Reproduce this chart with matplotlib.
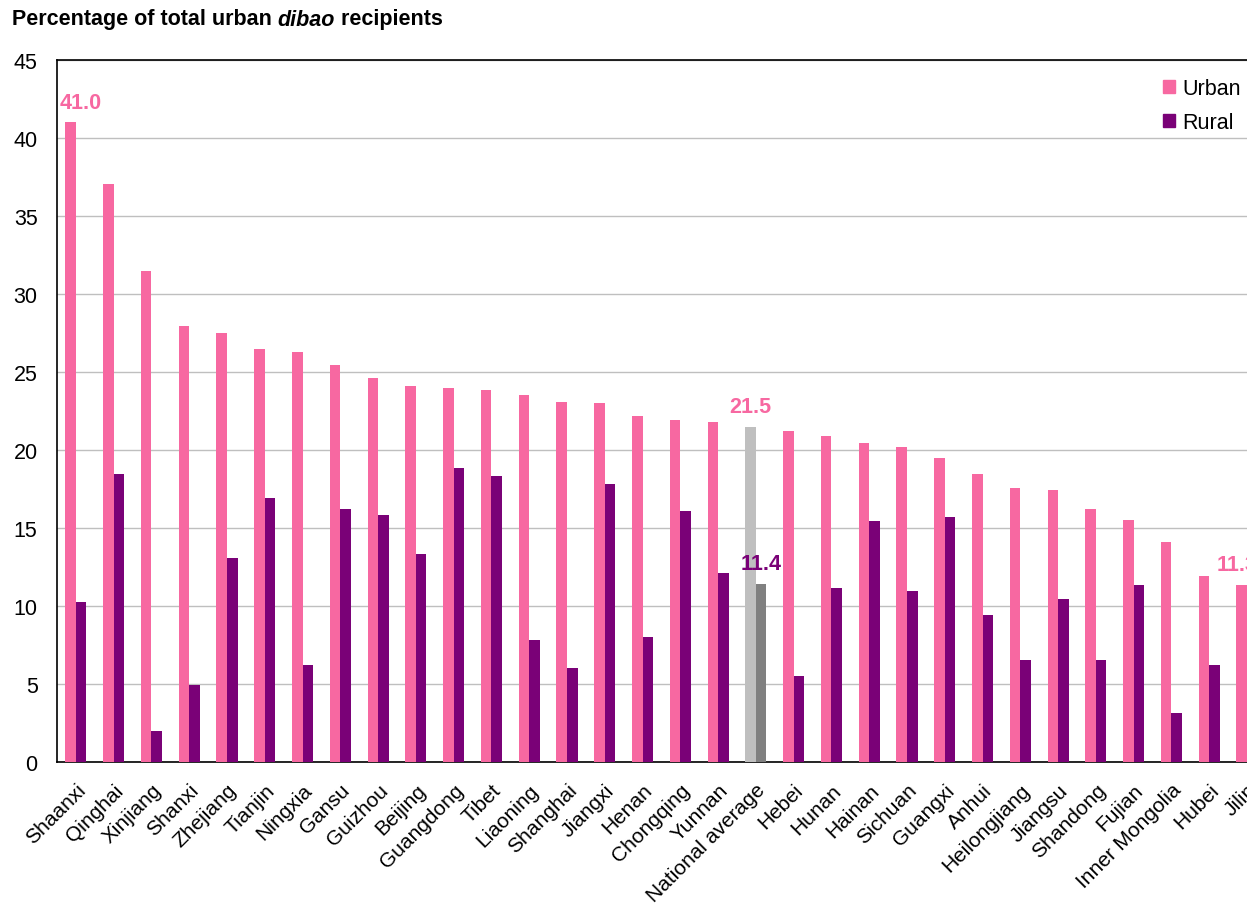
import matplotlib
matplotlib.use("Agg")
import matplotlib.pyplot as plt
import numpy as np
from matplotlib.patches import Patch

plt.rcParams['font.family'] = ['Liberation Sans', 'DejaVu Sans']

provinces = ["Shaanxi", "Qinghai", "Xinjiang", "Shanxi", "Zhejiang", "Tianjin", "Ningxia",
             "Gansu", "Guizhou", "Beijing", "Guangdong", "Tibet", "Liaoning", "Shanghai",
             "Jiangxi", "Henan", "Chongqing", "Yunnan", "National average", "Hebei", "Hunan",
             "Hainan", "Sichuan", "Guangxi", "Anhui", "Heilongjiang", "Jiangsu", "Shandong",
             "Fujian", "Inner Mongolia", "Hubei", "Jilin"]
urban = [41.0, 37.05, 31.5, 27.95, 27.5, 26.45, 26.3, 25.45, 24.6, 24.1, 24.0, 23.85, 23.55,
         23.1, 23.0, 22.2, 21.9, 21.8, 21.5, 21.2, 20.9, 20.45, 20.2, 19.5, 18.45, 17.55,
         17.45, 16.25, 15.5, 14.1, 11.95, 11.35]
rural = [10.25, 18.45, 2.0, 4.95, 13.1, 16.95, 6.25, 16.2, 15.85, 13.35, 18.85, 18.35, 7.8,
         6.0, 17.85, 8.0, 16.1, 12.1, 11.4, 5.5, 11.15, 15.45, 10.95, 15.7, 9.4, 6.55, 10.45,
         6.55, 11.35, 3.15, 6.2, 0.0]
highlight = "National average"
yticks = [0, 5, 10, 15, 20, 25, 30, 35, 40, 45]

PINK = "#F768A1"
PURPLE = "#7A0177"
GRAY_U = "#BFBFBF"
GRAY_R = "#808080"

W, H = 1247, 904
fig = plt.figure(figsize=(W / 100, H / 100), dpi=100)
ax = fig.add_axes([57 / W, 1 - 763 / H, 1 - 57 / W, (763 - 61) / H])

x = np.arange(len(provinces))
bw = 0.28
ucol = [GRAY_U if p == highlight else PINK for p in provinces]
rcol = [GRAY_R if p == highlight else PURPLE for p in provinces]
ax.bar(x - bw / 2, urban, bw, color=ucol, zorder=3)
ax.bar(x + bw / 2, rural, bw, color=rcol, zorder=3)

ax.set_ylim(0, 45)
ax.set_xlim(-0.5, 30.96)
ax.set_yticks(yticks)
ax.tick_params(axis='y', length=0, labelsize=15.5, pad=14)
ax.tick_params(axis='x', length=0, labelsize=15, pad=13)
ax.set_xticks(x)
ax.set_xticklabels(provinces, rotation=45, ha='right', rotation_mode='anchor')
ax.grid(axis='y', color='#BFBFBF', linewidth=1.0, zorder=0)
ax.set_axisbelow(True)
for s in ['left', 'bottom', 'top']:
    ax.spines[s].set_color('black')
    ax.spines[s].set_linewidth(1.2)
ax.spines['right'].set_visible(False)

# data labels
lab_kw = dict(textcoords='offset points', ha='center', va='bottom',
              fontsize=15.5, fontweight='bold', annotation_clip=False)
i0 = 0
ax.annotate(f"{urban[i0]:.1f}", (x[i0] - bw / 2, urban[i0]), xytext=(7, 7),
            color=PINK, **lab_kw)
ih = provinces.index(highlight)
ax.annotate(f"{urban[ih]:.1f}", (x[ih] - bw / 2, urban[ih]), xytext=(0, 7),
            color=PINK, **lab_kw)
ax.annotate(f"{rural[ih]:.1f}", (x[ih] + bw / 2, rural[ih]), xytext=(0, 7),
            color=PURPLE, **lab_kw)
il = len(provinces) - 1
ax.annotate(f"{urban[il]:.1f}", (x[il] - bw / 2, urban[il]), xytext=(-3, 7),
            color=PINK, **lab_kw)

# legend
handles = [Patch(color=PINK, label='Urban'), Patch(color=PURPLE, label='Rural')]
ax.legend(handles=handles, loc='upper right', bbox_to_anchor=(1.006, 0.993), frameon=False,
          fontsize=15.5, handlelength=0.55, handleheight=0.55, handletextpad=0.35,
          labelspacing=0.6, borderaxespad=0.2)

# title with italic word
fig.canvas.draw()
r = fig.canvas.get_renderer()
tx, ty = 12 / W, 1 - 20 / H
parts = [("Percentage of total urban ", 'normal'), ("dibao", 'italic'), (" recipients", 'normal')]
for txt, st in parts:
    t = fig.text(tx, ty, txt, fontsize=15.5, fontweight='bold', style=st, va='center', ha='left')
    bb = t.get_window_extent(renderer=r)
    tx += bb.width / W

fig.savefig("out.png", dpi=100)
